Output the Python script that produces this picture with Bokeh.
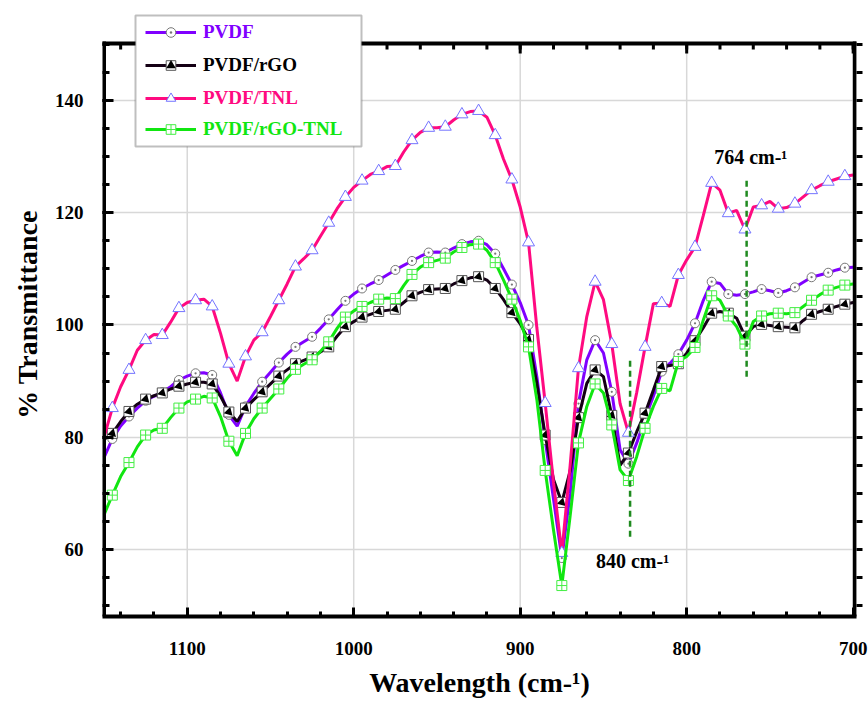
import math
from bokeh.plotting import figure
from bokeh.models import (Range1d, FixedTicker, LinearAxis, Legend, LegendItem,
                          BoxAnnotation, ColumnDataSource)
from bokeh.core.properties import value
from bokeh.embed import file_html
from bokeh.resources import INLINE

# ---------------- data ----------------
wavenumber = list(range(1150, 695, -5))  # 1150 ... 700 cm-1

pvdf = [
    76.4, 79.7, 82.0, 83.7, 85.2, 86.5, 87.3, 88.0, 89.0, 90.2,
    90.9, 91.4, 91.5, 91.1, 87.9, 84.0, 82.0, 85.5, 87.8, 89.9,
    91.6, 93.3, 94.8, 96.1, 97.0, 97.9, 99.4, 101.0, 102.7, 104.3,
    105.5, 106.5, 107.3, 108.0, 108.9, 109.8, 110.6, 111.4, 112.2, 112.9,
    113.0, 112.9, 113.7, 114.4, 114.8, 115.0, 114.3, 112.7, 110.0, 107.2,
    104.0, 100.0, 90.8, 79.5, 69.0, 58.5, 70.0, 86.0, 93.8, 97.3,
    95.0, 88.1, 77.8, 75.3, 79.0, 83.4, 87.3, 91.7, 93.2, 94.8,
    97.3, 100.3, 104.4, 107.7, 107.4, 105.5, 105.3, 105.5, 105.9, 106.4,
    106.1, 105.7, 106.1, 106.7, 107.6, 108.5, 108.9, 109.3, 109.8, 110.2,
    110.3]

pvdf_rgo = [
    79.6, 80.7, 82.8, 84.6, 85.9, 86.8, 87.4, 87.9, 88.6, 89.1,
    89.5, 89.8, 89.8, 89.5, 87.3, 84.5, 82.8, 85.2, 86.7, 88.1,
    89.5, 90.9, 92.0, 93.1, 93.7, 94.3, 95.2, 96.1, 98.0, 99.7,
    100.6, 101.4, 101.9, 102.4, 102.6, 102.8, 104.0, 105.2, 105.8, 106.3,
    106.4, 106.5, 107.3, 107.9, 108.4, 108.6, 108.0, 106.5, 104.5, 102.2,
    100.2, 97.4, 89.6, 80.4, 72.5, 68.4, 74.0, 83.5, 89.6, 92.0,
    90.8, 83.9, 75.0, 77.2, 81.0, 84.3, 88.4, 92.6, 92.8, 93.1,
    95.0, 97.2, 99.5, 102.1, 102.4, 102.1, 101.2, 98.0, 99.7, 100.1,
    99.9, 99.7, 99.6, 99.5, 100.8, 101.9, 102.4, 102.8, 103.3, 103.7,
    104.0]

pvdf_tnl = [
    80.0, 85.2, 89.0, 92.0, 95.5, 97.3, 98.3, 98.2, 100.5, 103.0,
    104.0, 104.4, 104.6, 103.3, 98.5, 93.1, 90.0, 94.4, 97.3, 98.7,
    101.5, 104.4, 107.3, 110.4, 111.8, 113.3, 115.8, 118.2, 120.7, 122.8,
    124.5, 125.7, 126.8, 127.4, 128.2, 128.3, 130.8, 132.9, 134.3, 135.1,
    135.1, 135.3, 136.5, 137.5, 138.0, 138.1, 137.0, 133.8, 129.5, 125.9,
    121.0, 114.7, 99.5, 86.1, 72.0, 59.4, 75.0, 92.3, 101.5, 107.7,
    104.5, 96.6, 86.0, 80.8, 88.0, 96.1, 103.8, 103.9, 103.3, 108.9,
    111.6, 113.9, 119.5, 125.3, 124.0, 119.9, 120.4, 117.0, 121.0, 121.3,
    122.0, 120.7, 120.9, 121.6, 122.8, 124.0, 124.8, 125.5, 126.0, 126.5,
    126.7]

pvdf_rgo_tnl = [
    66.2, 69.7, 73.0, 75.5, 78.3, 80.4, 81.3, 81.6, 83.5, 85.2,
    86.3, 86.8, 87.3, 87.0, 83.7, 79.3, 76.7, 80.7, 83.3, 85.2,
    86.9, 88.6, 90.5, 92.1, 93.0, 93.8, 95.3, 97.0, 99.4, 101.4,
    102.5, 103.3, 104.0, 104.6, 104.8, 104.7, 107.0, 109.0, 110.3, 111.1,
    111.5, 111.9, 113.0, 113.8, 114.3, 114.4, 113.3, 111.1, 108.0, 104.6,
    100.8, 96.1, 86.7, 74.1, 63.5, 53.6, 66.0, 79.0, 85.5, 89.5,
    87.9, 82.2, 74.2, 72.3, 76.6, 81.6, 85.5, 88.7, 88.3, 93.5,
    94.4, 96.0, 100.9, 105.2, 104.4, 101.6, 99.7, 96.6, 100.6, 101.6,
    102.0, 102.1, 102.0, 102.2, 103.3, 104.4, 105.4, 106.2, 106.7, 107.1,
    107.3]

series_labels = ["PVDF", "PVDF/rGO", "PVDF/TNL", "PVDF/rGO-TNL"]
x_major_ticks = [700, 800, 900, 1000, 1100]
x_minor_ticks = list(range(700, 1151, 20))
y_major_ticks = [60, 80, 100, 120, 140]
y_minor_ticks = list(range(50, 151, 5))

# plot box limits (data units)
X_LEFT, X_RIGHT = 1150.0, 699.0
Y_BOTTOM, Y_TOP = 48.09, 150.13

peak_positions = [764, 834]
peak_line_from = [90.8, 62.3]
peak_line_to = [126.3, 94.0]
peak_labels = ["764 cm-\u00b9", "840 cm-\u00b9"]
peak_label_x = [783.5, 854.5]
peak_label_y = [129.9, 57.9]

# ---------------- styling ----------------
FONT = "Liberation Serif"
C_PVDF = "#8000ff"
C_RGO = "#140014"
C_TNL = "#ff0a80"
C_RGOTNL = "#11e611"
C_PEAK = "#1f8a1f"
C_GRID = "#d8d8d8"

src = ColumnDataSource(dict(w=wavenumber, a=pvdf, b=pvdf_rgo, c=pvdf_tnl, d=pvdf_rgo_tnl))
idx = [i for i, w in enumerate(wavenumber) if w % 10 == 5]
mk = ColumnDataSource(dict(
    w=[wavenumber[i] for i in idx],
    a=[pvdf[i] for i in idx],
    b=[pvdf_rgo[i] for i in idx],
    c=[pvdf_tnl[i] for i in idx],
    d=[pvdf_rgo_tnl[i] for i in idx],
))

FRAME_BOTTOM = 616
FRAME_LEFT = 102

p = figure(width=868, height=702,
           x_range=Range1d(1150.9, 698.0), y_range=Range1d(48.09, 155.64),
           output_backend="svg", toolbar_location=None,
           min_border_left=FRAME_LEFT, min_border_right=12,
           min_border_top=12, min_border_bottom=702 - FRAME_BOTTOM)
p.outline_line_color = None
p.background_fill_color = "white"
p.border_fill_color = "white"

xt = FixedTicker(ticks=x_major_ticks, minor_ticks=x_minor_ticks)
yt = FixedTicker(ticks=y_major_ticks, minor_ticks=y_minor_ticks)
yt_right = FixedTicker(ticks=[], minor_ticks=y_minor_ticks)

bottom_ax = p.below[0]
left_ax = p.left[0]
right_ax = LinearAxis(ticker=yt_right)
p.add_layout(right_ax, "right")

for ax, tk in [(bottom_ax, xt), (left_ax, yt), (right_ax, yt_right)]:
    ax.ticker = tk
    ax.axis_line_width = 4
    ax.axis_line_color = "black"
    ax.major_tick_out = 0
    ax.major_tick_line_width = 3
    ax.major_tick_line_color = "black"
    ax.minor_tick_out = 0
    ax.minor_tick_line_width = 3
    ax.minor_tick_line_color = "black"
    ax.major_label_text_font = FONT
    ax.major_label_text_font_style = "bold"
    ax.major_label_text_font_size = "19px"
    ax.major_label_text_color = "black"

bottom_ax.major_tick_in = 9
bottom_ax.minor_tick_in = 5
left_ax.axis_line_color = None
left_ax.major_tick_in = 11
left_ax.minor_tick_in = 7
right_ax.axis_line_color = None
right_ax.minor_tick_in = 0
right_ax.minor_tick_out = 6

bottom_ax.major_label_standoff = 25
left_ax.major_label_standoff = 19
bottom_ax.axis_label = "Wavelength (cm-\u00b9)"
left_ax.axis_label = "% Transmittance"
for ax in (bottom_ax, left_ax):
    ax.axis_label_text_font = FONT
    ax.axis_label_text_font_style = "bold"
    ax.axis_label_text_font_size = "28px"
    ax.axis_label_text_color = "black"
bottom_ax.axis_label_standoff = 9
left_ax.axis_label_standoff = 9

p.xgrid.visible = False
p.ygrid.ticker = yt
p.ygrid.grid_line_color = C_GRID
p.ygrid.grid_line_width = 1.5

# vertical grid lines, limited to the plot box
p.segment(x0=x_major_ticks, y0=[Y_BOTTOM] * len(x_major_ticks),
          x1=x_major_ticks, y1=[Y_TOP] * len(x_major_ticks),
          line_color=C_GRID, line_width=1.5)

# ---------------- curves ----------------
l_a = p.line("w", "a", source=src, line_color=C_PVDF, line_width=3)
m_a = p.scatter("w", "a", source=mk, marker="circle_dot", size=9,
                fill_color="white", line_color="#777777", line_width=1)

l_b = p.line("w", "b", source=src, line_color=C_RGO, line_width=3)
m_b = p.scatter("w", "b", source=mk, marker="square", size=10,
                fill_color="white", line_color="#555555", line_width=1)
m_b2 = p.scatter("w", "b", source=mk, marker="triangle", size=9, angle=-3 * math.pi / 4,
                 fill_color="black", line_color=None)

l_c = p.line("w", "c", source=src, line_color=C_TNL, line_width=3)
m_c = p.scatter("w", "c", source=mk, marker="triangle", size=12,
                fill_color="white", line_color="#7474ff", line_width=1)

l_d = p.line("w", "d", source=src, line_color=C_RGOTNL, line_width=3)
m_d = p.scatter("w", "d", source=mk, marker="square_cross", size=10,
                fill_color="white", line_color="#44ee44", line_width=1)

# ---------------- plot box: left, right and top border, top ticks pointing in ----------------
p.segment(x0=[X_LEFT, X_RIGHT, X_LEFT], y0=[Y_BOTTOM, Y_BOTTOM, Y_TOP],
          x1=[X_LEFT, X_RIGHT, X_RIGHT], y1=[Y_TOP, Y_TOP, Y_TOP],
          line_color="black", line_width=4, line_cap="square")
p.ray(x=x_minor_ticks, y=[Y_TOP] * len(x_minor_ticks), length=6, length_units="screen",
      angle=-math.pi / 2, line_color="black", line_width=3)
p.ray(x=x_major_ticks, y=[Y_TOP] * len(x_major_ticks), length=10, length_units="screen",
      angle=-math.pi / 2, line_color="black", line_width=3)

# ---------------- peak markers ----------------
p.segment(x0=peak_positions, y0=peak_line_from, x1=peak_positions, y1=peak_line_to,
          line_color=C_PEAK, line_width=2.5, line_dash="6 4")
p.text(x=peak_label_x, y=peak_label_y, text=peak_labels,
       text_font=value(FONT), text_font_style="bold", text_font_size="20px",
       text_color="black", text_align="left", text_baseline="middle")

# ---------------- legend ----------------
box = BoxAnnotation(left=135 - FRAME_LEFT, right=361 - FRAME_LEFT,
                    top=FRAME_BOTTOM - 15, bottom=FRAME_BOTTOM - 146,
                    left_units="screen", right_units="screen",
                    top_units="screen", bottom_units="screen",
                    fill_color="white", fill_alpha=1.0,
                    line_color="#2a2a2a", line_width=2)
p.add_layout(box)

entries = [
    (series_labels[0], [l_a, m_a], C_PVDF, 32),
    (series_labels[1], [l_b, m_b, m_b2], "black", 65),
    (series_labels[2], [l_c, m_c], C_TNL, 98),
    (series_labels[3], [l_d, m_d], C_RGOTNL, 129),
]
for lab, rs, col, yc in entries:
    leg = Legend(items=[LegendItem(label=lab, renderers=rs)],
                 location=(145 - FRAME_LEFT, FRAME_BOTTOM - yc - 12),
                 orientation="vertical",
                 padding=0, margin=0, spacing=0,
                 glyph_width=51, glyph_height=24, label_height=24,
                 label_standoff=7,
                 border_line_color=None, background_fill_alpha=0.0,
                 label_text_font=FONT, label_text_font_style="bold",
                 label_text_font_size="19px", label_text_color=col)
    p.add_layout(leg)

open("out.html", "w").write(file_html(p, INLINE))
